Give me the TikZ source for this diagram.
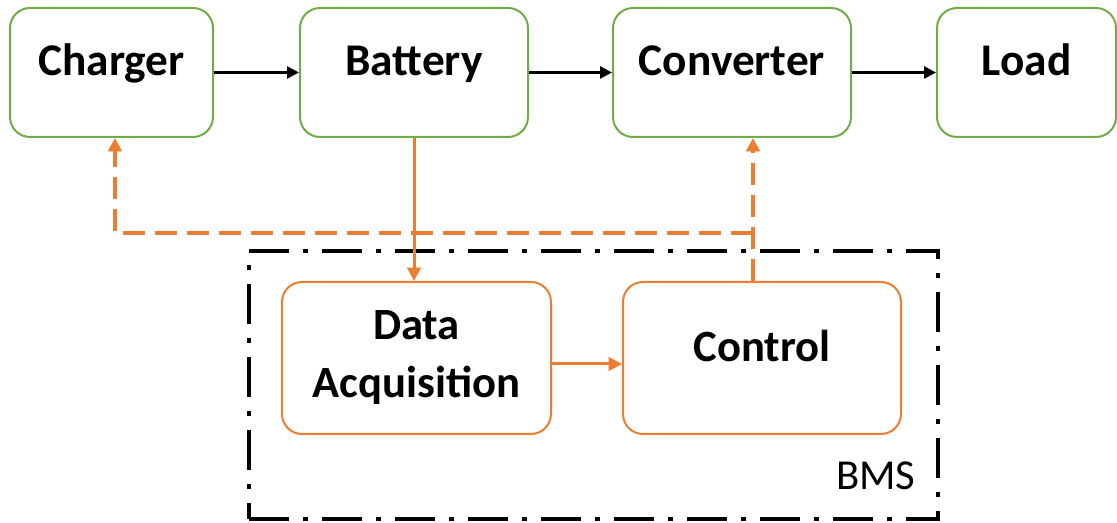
\documentclass[tikz,border=0pt]{standalone}
\usepackage{fontspec}
\setmainfont{Carlito}
\usetikzlibrary{arrows.meta}
\definecolor{boxgreen}{HTML}{70AD47}
\definecolor{bmsorange}{HTML}{ED7D31}

\begin{document}
\begin{tikzpicture}[x=0.75pt,y=-0.75pt,
  topbox/.style={draw=boxgreen, line width=1.5pt, rounded corners=15pt,
    inner sep=0pt, text height=51pt, text depth=45.75pt,
    font=\fontsize{34}{41}\selectfont\bfseries},
  bmsbox/.style={draw=bmsorange, line width=1.5pt, rounded corners=15pt,
    inner sep=0pt, font=\fontsize{33.5}{43.5}\selectfont\bfseries},
  flowarrow/.style={line width=2pt, -{Triangle[length=9pt,width=9pt]}},
  sensearrow/.style={draw=bmsorange, line width=2.25pt,
    -{Triangle[length=10pt,width=10pt,fill=bmsorange]}},
  cmdarrow/.style={draw=bmsorange, line width=2.5pt, dash pattern=on 16.5pt off 7.5pt,
    -{Triangle[length=10pt,width=10pt,fill=bmsorange]}},
  frame/.style={draw, line width=3.5pt, inner sep=0pt,
    dash pattern=on 30pt off 10.5pt on 3.75pt off 10.5pt}
]
\useasboundingbox (0,0) rectangle (1117,523);

% power chain
\node[topbox, minimum width=152.25pt] (charger)   at (111.5,72.5) {Charger};
\node[topbox, minimum width=171pt]    (battery)   at (414,72.5)   {Battery};
\node[topbox, minimum width=178.5pt]  (converter) at (732,72.5)   {Converter};
\node[topbox, minimum width=134.25pt] (load)      at (1026.5,72.5) {Load};

% battery management system
\node[frame, minimum width=516.75pt, minimum height=201pt] (bms) at (593.5,385) {};
\node[anchor=base east, font=\fontsize{32}{38}\selectfont] (bmslabel) at (920,489) {BMS};

\node[bmsbox, minimum width=201.75pt, minimum height=114pt, align=center]
  (daq) at (416.5,358) {Data\\Acquisition};
\node[bmsbox, minimum width=208.5pt, text height=60pt, text depth=54pt]
  (control) at (762,358) {Control};

% energy flow
\draw[flowarrow] (charger) -- (battery);
\draw[flowarrow] (battery) -- (converter);
\draw[flowarrow] (converter) -- (load);

% measurement and control signals
\draw[sensearrow] (battery.south) -- (battery.south |- daq.north);
\draw[sensearrow] ([yshift=-4.5pt]daq.east) -- ([yshift=-4.5pt]daq.east -| control.west);

\coordinate (tap) at (753,233);
\draw[cmdarrow] (tap |- control.north) -- (tap |- converter.south);
\draw[cmdarrow] (tap) -| ([xshift=2.6pt]charger.south);
\end{tikzpicture}
\end{document}
